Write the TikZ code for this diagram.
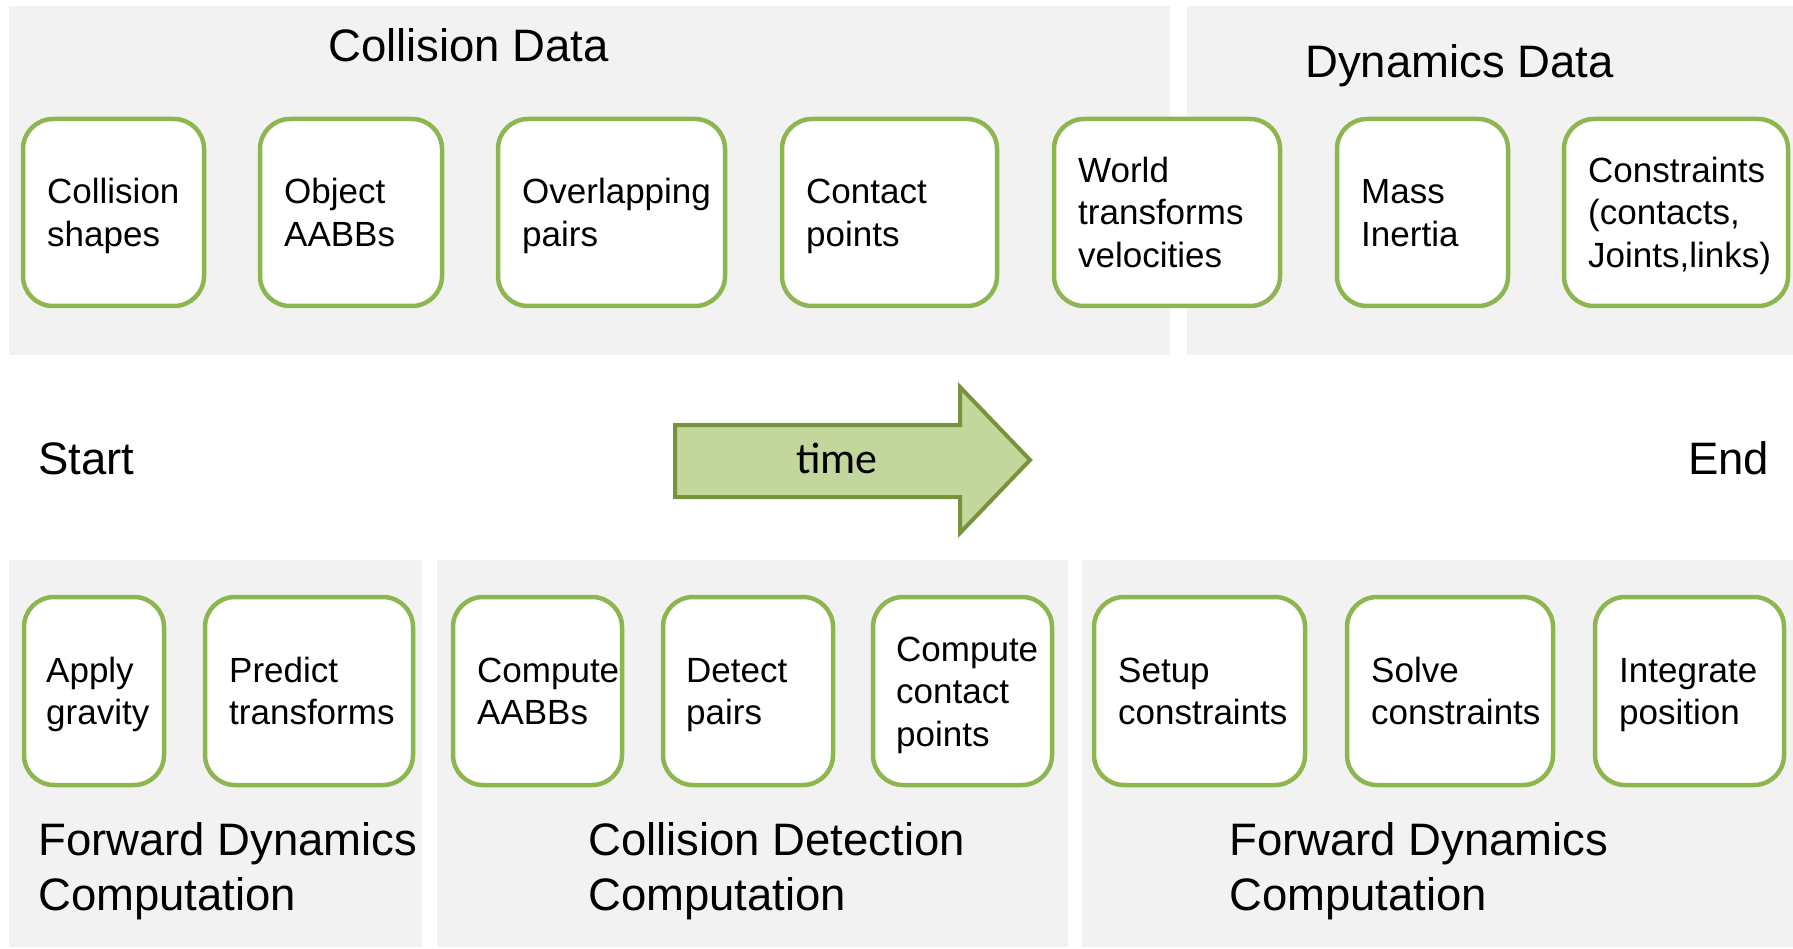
\documentclass[tikz,border=0pt]{standalone}
\usepackage{fontspec}
\setmainfont{Liberation Sans}
\newfontfamily\calibfont{Carlito}
\definecolor{panelgray}{HTML}{F2F2F2}
\definecolor{boxgreen}{RGB}{142,182,80}
\definecolor{arrowfill}{HTML}{C3D69B}
\definecolor{arrowline}{HTML}{77933C}
\begin{document}
\begin{tikzpicture}[x=1pt,y=-1pt,
  panel/.style={fill=panelgray,draw=none},
  databox/.style={draw=boxgreen,line width=4.5pt,fill=white,rounded corners=30pt,inner sep=0pt},
  boxtext/.style={anchor=base west,align=left,inner sep=0pt,font=\fontsize{35}{42.5}\selectfont},
  biglabel/.style={anchor=base west,align=left,inner sep=0pt,font=\fontsize{45.5}{55}\selectfont}]
\useasboundingbox (0,0) rectangle (1793,949);
% panels
\fill[panel] (9,6) rectangle (1170,355);
\fill[panel] (1187,6) rectangle (1793,355);
\fill[panel] (9,560) rectangle (422,947);
\fill[panel] (437,560) rectangle (1068,947);
\fill[panel] (1082,560) rectangle (1793,947);
% panel titles (base = last line)
\node[biglabel] (tcd) at (328,62) {Collision Data};
\node[biglabel] (tdd) at (1305,78) {Dynamics Data};
\node[biglabel] (tstart) at (38,474) {Start};
\node[biglabel] (tend) at (1688,474) {End};
\node[biglabel] (tfd1) at (38,910) {Forward Dynamics\\Computation};
\node[biglabel] (tcdc) at (588,910) {Collision Detection\\Computation};
\node[biglabel] (tfd2) at (1229,910) {Forward Dynamics\\Computation};
% top boxes
\node[databox,minimum width=181,minimum height=187] (cs) at (113.5,212.5) {};
\node[databox,minimum width=182,minimum height=187] (ob) at (351,212.5) {};
\node[databox,minimum width=227,minimum height=187] (op) at (611.5,212.5) {};
\node[databox,minimum width=215,minimum height=187] (cp) at (889.5,212.5) {};
\node[databox,minimum width=226,minimum height=187] (wt) at (1167,212.5) {};
\node[databox,minimum width=171,minimum height=187] (mi) at (1422.5,212.5) {};
\node[databox,minimum width=224,minimum height=187] (co) at (1676,212.5) {};
\node[boxtext] (cst) at (47,246.5) {Collision\\shapes};
\node[boxtext] (obt) at (284,246.5) {Object\\AABBs};
\node[boxtext] (opt) at (522,246.5) {Overlapping\\pairs};
\node[boxtext] (cpt) at (806,246.5) {Contact\\points};
\node[boxtext] (wtt) at (1078,267.5) {World\\transforms\\velocities};
\node[boxtext] (mit) at (1361,246.5) {Mass\\Inertia};
\node[boxtext] (cot) at (1588,267.5) {Constraints\\(contacts,\\Joints,links)};
% bottom boxes
\node[databox,minimum width=140,minimum height=188] (ag) at (94,691) {};
\node[databox,minimum width=208,minimum height=188] (pt) at (309,691) {};
\node[databox,minimum width=169,minimum height=188] (ca) at (537.5,691) {};
\node[databox,minimum width=170,minimum height=188] (dp) at (748,691) {};
\node[databox,minimum width=179,minimum height=188] (cc) at (962.5,691) {};
\node[databox,minimum width=211,minimum height=188] (sc) at (1199.5,691) {};
\node[databox,minimum width=206,minimum height=188] (so) at (1450,691) {};
\node[databox,minimum width=189,minimum height=188] (ip) at (1689.5,691) {};
\node[boxtext] (agt) at (46,724.5) {Apply\\gravity};
\node[boxtext] (ptt) at (229,724.5) {Predict\\transforms};
\node[boxtext] (cat) at (477,724.5) {Compute\\AABBs};
\node[boxtext] (dpt) at (686,724.5) {Detect\\pairs};
\node[boxtext] (cct) at (896,746) {Compute\\contact\\points};
\node[boxtext] (sct) at (1118,724.5) {Setup\\constraints};
\node[boxtext] (sot) at (1371,724.5) {Solve\\constraints};
\node[boxtext] (ipt) at (1619,724.5) {Integrate\\position};
% time arrow
\draw[fill=arrowfill,draw=arrowline,line width=4pt,line join=miter]
  (675,425) -- (960,425) -- (960,387) -- (1030,460) -- (960,533) -- (960,497) -- (675,497) -- cycle;
\node[anchor=base,inner sep=0pt,font=\calibfont\fontsize{44}{50}\selectfont] (time) at (837,473) {time};
\end{tikzpicture}
\end{document}
